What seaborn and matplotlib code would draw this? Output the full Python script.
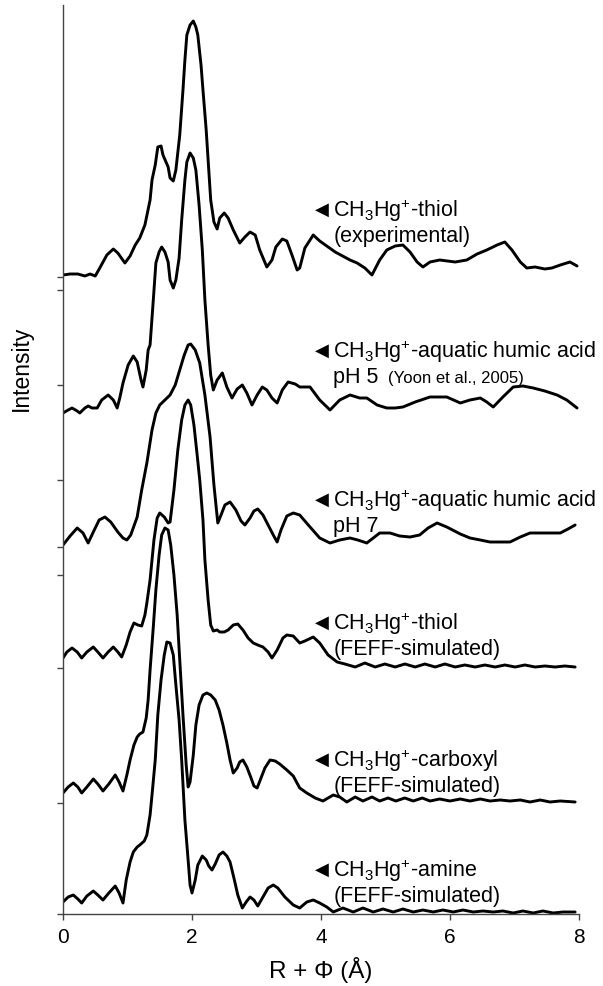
import matplotlib
matplotlib.use("Agg")
import matplotlib.pyplot as plt
import seaborn as sns
import pandas as pd

# ---------------- data ----------------
samples = ["thiol_exp", "humic_pH5", "humic_pH7", "thiol_feff", "carboxyl_feff", "amine_feff"]
offsets = [639, 503, 369, 256, 121, 12]          # vertical stacking offsets (a.u.)

r_thiol_exp = [0, 0.11, 0.23, 0.34, 0.42, 0.50, 0.57, 0.68, 0.78, 0.85, 0.96, 1.04, 1.12, 1.19, 1.27, 1.35,
               1.38, 1.43, 1.47, 1.52, 1.55, 1.63, 1.66, 1.71, 1.75, 1.81, 1.86, 1.89, 1.92, 1.97, 2.02,
               2.06, 2.09, 2.14, 2.17, 2.22, 2.26, 2.29, 2.34, 2.39, 2.43, 2.50, 2.56, 2.64, 2.74, 2.82,
               2.90, 2.98, 3.05, 3.16, 3.24, 3.30, 3.40, 3.47, 3.55, 3.63, 3.67, 3.75, 3.88, 3.98, 4.22,
               4.45, 4.56, 4.68, 4.79, 4.91, 5.02, 5.15, 5.27, 5.38, 5.49, 5.58, 5.69, 5.84, 6.08, 6.26,
               6.42, 6.57, 6.73, 6.85, 6.96, 7.09, 7.19, 7.32, 7.47, 7.58, 7.71, 7.86, 7.97]
i_thiol_exp = [0, 1, 1, -1, 1, -1, 7, 20, 26, 22, 12, 19, 30, 37, 50, 75,
               95, 110, 128, 129, 120, 108, 97, 94, 105, 140, 185, 215, 240, 250, 254,
               248, 240, 210, 185, 145, 105, 75, 53, 46, 57, 62, 57, 45, 32, 38,
               43, 40, 25, 8, 15, 28, 36, 34, 20, 5, 7, 27, 40, 34, 23,
               15, 12, 7, 0, 15, 25, 29, 30, 23, 13, 8, 13, 15, 13, 15,
               21, 25, 30, 33, 25, 13, 7, 8, 6, 7, 10, 13, 9]

r_humic_pH5 = [0, 0.08, 0.14, 0.22, 0.26, 0.34, 0.39, 0.45, 0.53, 0.60, 0.70, 0.78, 0.84, 0.88, 0.93, 1.01,
               1.09, 1.15, 1.21, 1.24, 1.29, 1.32, 1.35, 1.40, 1.44, 1.49, 1.53, 1.58, 1.63, 1.66, 1.71,
               1.75, 1.80, 1.84, 1.89, 1.92, 1.97, 2.02, 2.06, 2.11, 2.16, 2.20, 2.25, 2.29, 2.33, 2.39,
               2.47, 2.54, 2.62, 2.70, 2.78, 2.85, 2.93, 3.01, 3.09, 3.16, 3.24, 3.32, 3.40, 3.49, 3.60,
               3.67, 3.83, 3.98, 4.14, 4.29, 4.45, 4.60, 4.71, 4.87, 5.02, 5.15, 5.27, 5.46, 5.69, 5.95,
               6.16, 6.31, 6.47, 6.57, 6.67, 6.82, 6.98, 7.13, 7.29, 7.47, 7.66, 7.81, 7.97]
i_humic_pH5 = [-2, 1, 3, 0, -2, 3, 5, 3, 3, 11, 16, 11, 3, 13, 28, 46,
               55, 49, 31, 24, 41, 61, 66, 111, 148, 159, 164, 159, 149, 131, 123,
               131, 153, 191, 231, 249, 258, 253, 241, 206, 161, 111, 66, 36, 21, 31,
               38, 24, 13, 22, 26, 18, 6, 16, 24, 21, 13, 8, 21, 29, 27,
               24, 24, 11, 1, 11, 16, 13, 13, 6, 3, 3, 4, 9, 14, 14,
               8, 11, 13, 9, 4, 14, 24, 25, 23, 20, 16, 11, 3]

r_humic_pH7 = [0, 0.11, 0.22, 0.31, 0.39, 0.47, 0.56, 0.65, 0.74, 0.85, 0.93, 0.99, 1.05, 1.15, 1.22, 1.30,
               1.38, 1.44, 1.50, 1.58, 1.66, 1.74, 1.81, 1.88, 1.94, 1.98, 2.05, 2.12, 2.20, 2.28, 2.34,
               2.40, 2.45, 2.51, 2.59, 2.68, 2.76, 2.82, 2.90, 2.96, 3.02, 3.10, 3.18, 3.26, 3.32, 3.38,
               3.47, 3.57, 3.67, 3.83, 3.98, 4.14, 4.29, 4.45, 4.57, 4.71, 4.81, 4.91, 5.07, 5.22, 5.38,
               5.53, 5.66, 5.80, 5.95, 6.16, 6.31, 6.47, 6.62, 6.78, 6.93, 7.09, 7.24, 7.47, 7.71, 7.83, 7.94]
i_humic_pH7 = [0, 9, 17, 12, 2, 13, 25, 28, 23, 13, 7, 5, 10, 28, 55, 82,
               115, 132, 140, 145, 150, 160, 175, 190, 200, 201, 195, 182, 150, 108, 60,
               22, 30, 40, 43, 35, 24, 20, 27, 34, 36, 30, 20, 10, 3, 15,
               29, 32, 30, 18, 7, 2, 5, 7, 5, 2, 7, 12, 12, 9, 8,
               10, 17, 22, 18, 11, 7, 5, 3, 3, 3, 8, 12, 12, 12, 16, 20]

r_thiol_feff = [0, 0.06, 0.14, 0.22, 0.29, 0.37, 0.47, 0.54, 0.62, 0.70, 0.78, 0.85, 0.91, 0.98, 1.04, 1.10,
                1.16, 1.22, 1.27, 1.30, 1.35, 1.38, 1.41, 1.46, 1.50, 1.57, 1.63, 1.66, 1.72, 1.78, 1.84,
                1.89, 1.94, 1.98, 2.03, 2.08, 2.12, 2.17, 2.20, 2.25, 2.29, 2.33, 2.39, 2.43, 2.50, 2.56,
                2.64, 2.71, 2.79, 2.87, 2.95, 3.02, 3.10, 3.18, 3.24, 3.32, 3.41, 3.47, 3.57, 3.67, 3.75,
                3.88, 3.98, 4.11, 4.25, 4.37, 4.53, 4.68, 4.84, 4.99, 5.15, 5.30, 5.46, 5.61, 5.77, 5.92,
                6.08, 6.23, 6.39, 6.54, 6.70, 6.85, 7.01, 7.16, 7.32, 7.47, 7.63, 7.78, 7.94]
i_thiol_feff = [0, 6, 10, 6, 0, 6, 11, 6, 0, 6, 11, 6, 1, 13, 26, 35,
                33, 32, 43, 55, 78, 98, 118, 140, 145, 141, 135, 136, 168, 208, 238,
                253, 258, 253, 233, 203, 178, 138, 98, 58, 33, 27, 28, 26, 26, 28,
                33, 34, 28, 20, 15, 13, 11, 6, 0, 8, 20, 23, 22, 15, 17,
                21, 15, 3, -4, -6, -9, -5, -9, -6, -9, -6, -9, -6, -9, -6,
                -9, -7, -9, -7, -9, -7, -9, -7, -9, -8, -9, -8, -9]

r_carboxyl_feff = [0, 0.08, 0.16, 0.23, 0.29, 0.37, 0.47, 0.54, 0.62, 0.71, 0.81, 0.87, 0.93, 0.99, 1.04, 1.10,
                   1.15, 1.19, 1.24, 1.29, 1.32, 1.35, 1.40, 1.44, 1.49, 1.53, 1.58, 1.63, 1.67, 1.72, 1.77,
                   1.81, 1.86, 1.91, 1.94, 1.97, 2.02, 2.06, 2.11, 2.17, 2.23, 2.29, 2.36, 2.42, 2.48, 2.54,
                   2.59, 2.64, 2.70, 2.74, 2.79, 2.85, 2.91, 2.96, 3.01, 3.07, 3.13, 3.21, 3.29, 3.36, 3.47,
                   3.57, 3.67, 3.78, 3.91, 4.03, 4.19, 4.29, 4.40, 4.53, 4.65, 4.79, 4.91, 5.04, 5.16, 5.30,
                   5.43, 5.57, 5.69, 5.84, 6.00, 6.16, 6.31, 6.47, 6.62, 6.78, 6.93, 7.09, 7.24, 7.40, 7.55,
                   7.71, 7.94]
i_carboxyl_feff = [0, 6, 10, 6, 0, 6, 14, 9, 2, 9, 18, 11, 2, 18, 33, 48,
                   56, 59, 61, 75, 93, 123, 166, 203, 238, 258, 265, 263, 248, 218, 178,
                   133, 78, 28, 6, 11, 38, 68, 88, 98, 100, 98, 93, 83, 68, 50,
                   33, 20, 25, 31, 33, 26, 16, 7, 5, 15, 25, 33, 32, 29, 23,
                   17, 5, 0, -5, -8, -2, -4, -9, -4, -8, -4, -8, -5, -8, -5,
                   -8, -5, -8, -6, -8, -6, -8, -6, -8, -7, -8, -7, -9, -7, -9,
                   -8, -9]

r_amine_feff = [0, 0.08, 0.16, 0.23, 0.29, 0.37, 0.47, 0.54, 0.62, 0.71, 0.81, 0.87, 0.93, 0.98, 1.04, 1.09,
                1.15, 1.19, 1.26, 1.30, 1.35, 1.38, 1.43, 1.47, 1.52, 1.57, 1.61, 1.66, 1.71, 1.75, 1.80,
                1.84, 1.89, 1.94, 1.97, 2.00, 2.05, 2.09, 2.16, 2.22, 2.26, 2.31, 2.36, 2.42, 2.48, 2.54,
                2.59, 2.65, 2.71, 2.78, 2.84, 2.90, 2.96, 3.02, 3.10, 3.18, 3.26, 3.33, 3.44, 3.57, 3.67,
                3.78, 3.88, 3.98, 4.09, 4.19, 4.34, 4.50, 4.65, 4.81, 4.96, 5.12, 5.27, 5.43, 5.58, 5.74,
                5.89, 6.05, 6.20, 6.36, 6.51, 6.67, 6.82, 6.98, 7.13, 7.29, 7.44, 7.60, 7.75, 7.94]
i_amine_feff = [0, 5, 7, 3, -1, 6, 11, 7, 2, 9, 16, 9, -1, 22, 40, 50,
                55, 57, 61, 67, 87, 107, 142, 187, 222, 247, 260, 259, 247, 217, 182,
                142, 82, 42, 17, 9, 22, 37, 46, 42, 36, 32, 38, 47, 50, 46,
                40, 24, 7, -6, 0, 5, 2, -4, 5, 14, 17, 14, 5, -3, -6,
                0, 2, -1, -5, -10, -6, -10, -6, -10, -7, -10, -7, -10, -8, -10,
                -8, -10, -8, -10, -9, -10, -9, -11, -9, -11, -9, -11, -10, -10]

r_values = [r_thiol_exp, r_humic_pH5, r_humic_pH7, r_thiol_feff, r_carboxyl_feff, r_amine_feff]
i_values = [i_thiol_exp, i_humic_pH5, i_humic_pH7, i_thiol_feff, i_carboxyl_feff, i_amine_feff]

label_line1 = [r"CH$_3$Hg$^{+}$-thiol",
               r"CH$_3$Hg$^{+}$-aquatic humic acid",
               r"CH$_3$Hg$^{+}$-aquatic humic acid",
               r"CH$_3$Hg$^{+}$-thiol",
               r"CH$_3$Hg$^{+}$-carboxyl",
               r"CH$_3$Hg$^{+}$-amine"]
label_line2 = ["(experimental)", "pH 5", "pH 7", "(FEFF-simulated)", "(FEFF-simulated)", "(FEFF-simulated)"]
label_y = [697, 556, 407, 284, 147, 37]        # baseline of the first label line (a.u.)
reference_note = "(Yoon et al., 2005)"

x_ticks = [0, 2, 4, 6, 8]
y_ticks = [0, 111, 246, 339, 367, 434, 529, 624, 637]

# ---------------- build table ----------------
rows = []
for name, off, rv, iv in zip(samples, offsets, r_values, i_values):
    for r, i in zip(rv, iv):
        rows.append({"sample": name, "R": r, "signal": i + off})
df = pd.DataFrame(rows)

# ---------------- plot ----------------
sns.set_theme(style="ticks")
plt.rcParams["font.family"] = ["Liberation Sans", "DejaVu Sans"]
plt.rcParams["mathtext.fontset"] = "custom"
plt.rcParams["mathtext.rm"] = "Liberation Sans"
plt.rcParams["mathtext.it"] = "Liberation Sans:italic"
plt.rcParams["mathtext.bf"] = "Liberation Sans:bold"
plt.rcParams["mathtext.default"] = "rm"
plt.rcParams["text.color"] = "black"
plt.rcParams["axes.labelcolor"] = "black"
plt.rcParams["xtick.labelcolor"] = "black"

fig = plt.figure(figsize=(6.03, 9.86), dpi=100)
ax = fig.add_axes([63 / 603, 72 / 986, 516 / 603, 909 / 986])

sns.lineplot(data=df, x="R", y="signal", units="sample", estimator=None, sort=False,
             color="black", lw=2.1, ax=ax, legend=False)

ax.set_xlim(0, 8)
ax.set_ylim(0, 909)
ax.set_xticks(x_ticks)
ax.set_xticklabels([str(t) for t in x_ticks])
ax.set_yticks(y_ticks)
ax.set_yticklabels([])

for side in ["top", "right"]:
    ax.spines[side].set_visible(False)
for side in ["left", "bottom"]:
    ax.spines[side].set_color("#444444")
    ax.spines[side].set_linewidth(1.0)
ax.tick_params(axis="both", direction="out", length=4, width=1, color="#444444")
ax.tick_params(axis="x", labelsize=15, pad=6, labelcolor="black")

ax.set_xlabel("R + Φ (Å)", fontsize=17.5, labelpad=7, color="black")
ax.set_ylabel("Intensity", fontsize=16.5, color="black")
ax.yaxis.set_label_coords(-0.058, 0.6)

tri_x = 4.02
txt_x = 4.19
line_gap = 25
for l1, l2, y in zip(label_line1, label_line2, label_y):
    ax.text(tri_x, y + 2, "◀", fontsize=13, family=["DejaVu Sans"], ha="center", va="baseline",
            color="black")
    ax.text(txt_x, y, l1, fontsize=15.5, ha="left", va="baseline", color="black")
    ax.text(txt_x, y - line_gap, l2, fontsize=15.5, ha="left", va="baseline", color="black")
ax.text(5.04, label_y[1] - line_gap, reference_note, fontsize=12, ha="left", va="baseline",
        color="black")

fig.savefig("out.png", dpi=100)
